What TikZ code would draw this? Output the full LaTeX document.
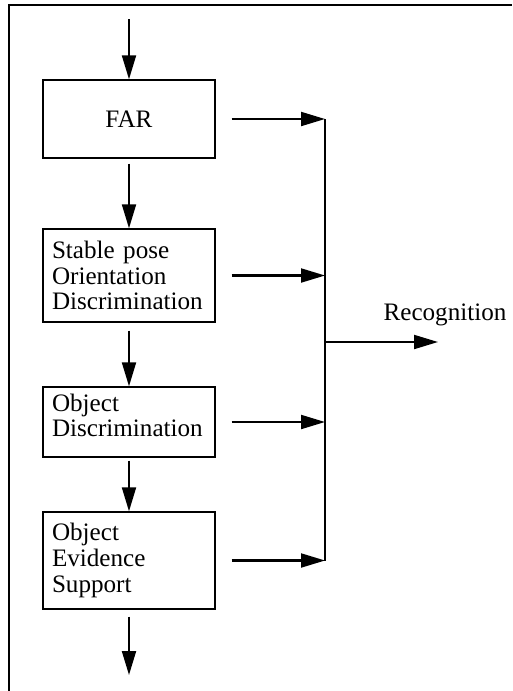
\documentclass[tikz,border=0pt]{standalone}
\usepackage{fontspec}
\setmainfont{Liberation Serif}
\usetikzlibrary{arrows.meta, positioning}

\tikzset{
    stage/.style={draw, line width=0.8pt, minimum width=3.44cm, text width=3.08cm,
        inner xsep=0.18cm, align=left, font=\fontsize{14.3}{14.6}\selectfont},
    flow/.style={-{Triangle[length=0.48cm, width=0.28cm]}, line width=1.15pt},
}

\begin{document}
\begin{tikzpicture}[x=0.02cm, y=-0.02cm]
    \useasboundingbox (0,0) rectangle (512,691);
    % frame (left and top edge only)
    \draw[line width=1.3pt] (9,691) -- (9,5) -- (512,5);

    % stages
    \node[stage, align=center, minimum height=1.56cm] (far) at (129,119) {FAR};
    \node[stage, minimum height=1.86cm] (pose) at (129,275.5) {Stable pose\\Orientation\\Discrimination};
    \node[stage, minimum height=1.40cm] (objdisc) at (129,422) {Object\\Discrimination\\[-0.25cm]\mbox{}};
    \node[stage, minimum height=1.94cm] (evid) at (129,560.5) {Object\\Evidence\\Support};

    % in / out
    \coordinate (in) at (129,19);
    \coordinate (out) at (129,675);
    \draw[flow] (in) -- (far.north);
    \draw[flow, shorten <=0.1cm] (far.south) -- (pose.north);
    \draw[flow, shorten <=0.16cm] (pose.south) -- (objdisc.north);
    \draw[flow, shorten <=0.06cm] (objdisc.south) -- (evid.north);
    \draw[flow, shorten <=0.14cm] (evid.south) -- (out);

    % collecting line
    \coordinate (bus) at (325,342);
    \foreach \s in {far, pose, objdisc, evid}
        \draw[flow, shorten <=0.32cm] (\s.east) -- (\s.east -| bus);
    \draw[line width=1.15pt] (far.east -| bus) -- (evid.east -| bus);

    % result
    \coordinate (rec) at (438,342);
    \draw[flow] (bus) -- (rec);
    \node[font=\fontsize{14.3}{14.6}\selectfont] (reclabel) at (445,315) {Recognition};
\end{tikzpicture}
\end{document}
